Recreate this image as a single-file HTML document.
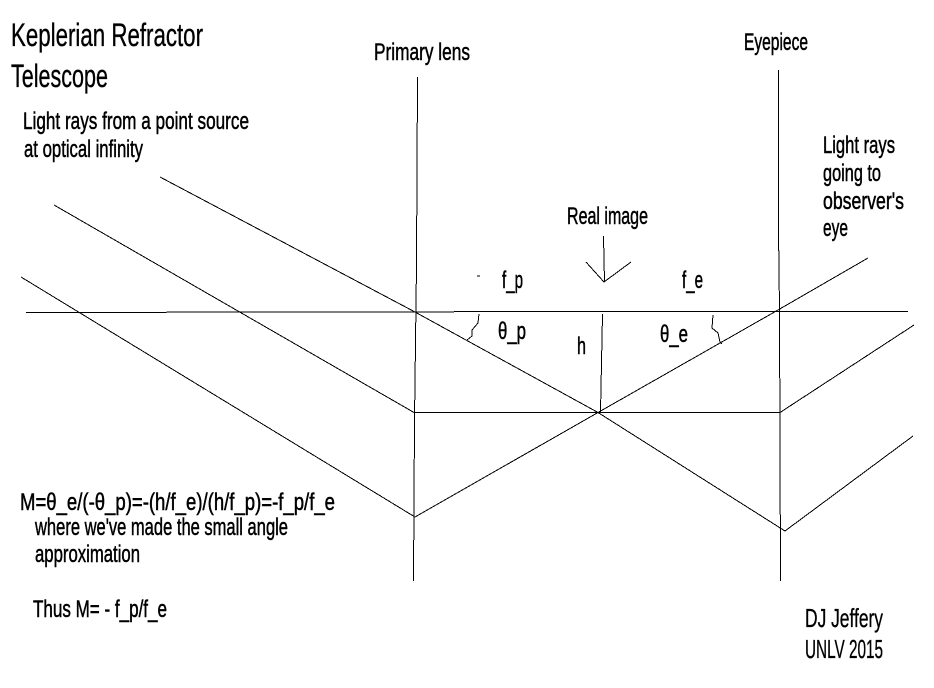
<!DOCTYPE html>
<html><head><meta charset="utf-8"><style>
html,body{margin:0;padding:0;background:#fff}
svg{display:block}
text{font-family:"Liberation Sans",sans-serif;fill:#000;stroke:#000;stroke-width:.5}
.a{font-size:24px}
.b{font-size:32px;stroke-width:.35}
.c{font-size:26px;stroke-width:.35}
</style></head><body>
<svg width="934" height="688" viewBox="0 0 934 688" xmlns="http://www.w3.org/2000/svg">
<rect width="934" height="688" fill="#fff"/>
<g fill="none" stroke="#000" stroke-width="1" shape-rendering="crispEdges">
<polyline points="417.5,77 416.5,265 414.5,420 413.5,581"/>
<polyline points="778.5,70 778.5,230 779.5,310 780.5,581"/>
<line x1="26" y1="312.5" x2="600" y2="311.5"/>
<line x1="600" y1="311.5" x2="908" y2="311.5"/>
<polyline points="160,177 415,312 598,412.5 785,531 913,436"/>
<polyline points="54,205 414,412.5 780,412.5 914,325"/>
<polyline points="21,277 415,517 598,412.5 778,310 868,258"/>
<line x1="603.5" y1="236" x2="604.5" y2="282"/>
<polyline points="586,262 604,282 631,262"/>
<polyline points="602.5,314 600.5,412"/>
<polyline points="479,314 478,323 472,330 472,336 467,340"/>
<polyline points="713,315 712,328 718,333 720,342 722,344"/>
<line x1="477" y1="276" x2="480" y2="276"/>
</g>
<text class="b" x="11" y="46" textLength="192" lengthAdjust="spacingAndGlyphs">Keplerian Refractor</text>
<text class="b" x="11" y="87" textLength="97" lengthAdjust="spacingAndGlyphs">Telescope</text>
<text class="a" x="23" y="129" textLength="226" lengthAdjust="spacingAndGlyphs">Light rays from a point source</text>
<text class="a" x="24" y="157" textLength="119" lengthAdjust="spacingAndGlyphs">at optical infinity</text>
<text class="a" x="374" y="60" textLength="96" lengthAdjust="spacingAndGlyphs">Primary lens</text>
<text class="a" x="744" y="50" textLength="64" lengthAdjust="spacingAndGlyphs">Eyepiece</text>
<text class="a" x="823" y="153" textLength="72" lengthAdjust="spacingAndGlyphs">Light rays</text>
<text class="a" x="823" y="181" textLength="58" lengthAdjust="spacingAndGlyphs">going to</text>
<text class="a" x="823" y="209" textLength="81" lengthAdjust="spacingAndGlyphs">observer's</text>
<text class="a" x="823" y="236" textLength="25" lengthAdjust="spacingAndGlyphs">eye</text>
<text class="a" x="567" y="224" textLength="81" lengthAdjust="spacingAndGlyphs">Real image</text>
<text class="a" x="502" y="288" textLength="21" lengthAdjust="spacingAndGlyphs">f_p</text>
<text class="a" x="682" y="288" textLength="21" lengthAdjust="spacingAndGlyphs">f_e</text>
<text class="a" x="498" y="339" textLength="28" lengthAdjust="spacingAndGlyphs">θ_p</text>
<text class="a" x="660" y="342" textLength="28" lengthAdjust="spacingAndGlyphs">θ_e</text>
<text class="a" x="577" y="354" textLength="9" lengthAdjust="spacingAndGlyphs">h</text>
<text class="a" x="20" y="510" textLength="315" lengthAdjust="spacingAndGlyphs">M=θ_e/(-θ_p)=-(h/f_e)/(h/f_p)=-f_p/f_e</text>
<text class="a" x="35" y="535" textLength="253" lengthAdjust="spacingAndGlyphs">where we've made the small angle</text>
<text class="a" x="35" y="562" textLength="105" lengthAdjust="spacingAndGlyphs">approximation</text>
<text class="a" x="33" y="617" textLength="134" lengthAdjust="spacingAndGlyphs">Thus M= - f_p/f_e</text>
<text class="c" x="805" y="627" textLength="78" lengthAdjust="spacingAndGlyphs">DJ Jeffery</text>
<text class="c" x="805" y="658" textLength="78" lengthAdjust="spacingAndGlyphs">UNLV 2015</text>
</svg>
</body></html>
